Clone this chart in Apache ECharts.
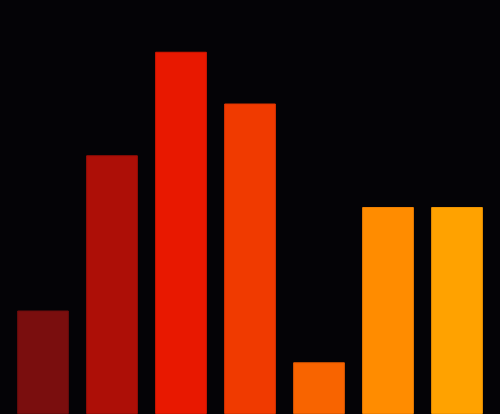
<!DOCTYPE html>
<html><head><meta charset="utf-8">
<script src="https://cdn.jsdelivr.net/npm/echarts@6/dist/echarts.min.js"></script>
<style>html,body{margin:0;padding:0;background:#040306;}#c{width:500px;height:414px;}</style>
</head><body><div id="c"></div>
<script>
const categories = ['A','B','C','D','E','F','G'];
const values = [2, 5, 7, 6, 1, 4, 4];
const colors = ['#7a0e0e','#ad0f07','#e81800','#f03a00','#f86400','#ff8c00','#ffa200'];
const borders = ['#6a0c0c','#9a0d06','#d41600','#dc3400','#e05a00','#f08000','#f09400'];
const chart = echarts.init(document.getElementById('c'));
chart.setOption({
  backgroundColor: '#040306',
  animation: false,
  grid: {left: 8.5, right: 8.5, top: 0, bottom: 0},
  xAxis: {type: 'category', data: categories, show: false},
  yAxis: {type: 'value', min: 0, max: 8, show: false},
  series: [{
    type: 'bar',
    barCategoryGap: '25%',
    data: values.map((v, i) => ({value: v, itemStyle: {color: colors[i], borderColor: borders[i], borderWidth: 1}}))
  }]
});
</script></body></html>
